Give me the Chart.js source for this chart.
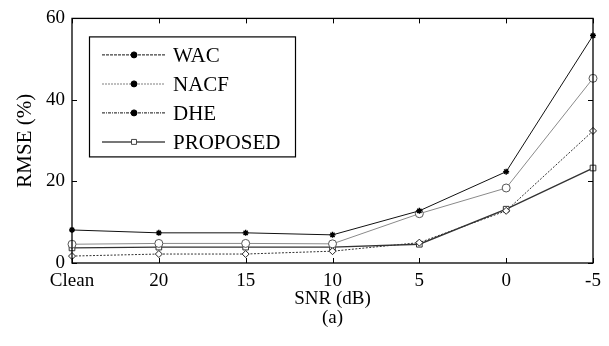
<!DOCTYPE html>
<html>
<head>
<meta charset="utf-8">
<script src="https://cdn.jsdelivr.net/npm/chart.js@4.4.0/dist/chart.umd.min.js"></script>
<style>
  html,body{margin:0;padding:0;background:#fff;}
  #wrap{width:609px;height:346px;position:relative;}
</style>
</head>
<body>
<div id="wrap"><canvas id="c" width="609" height="346"></canvas></div>
<script>
const categories = ["Clean", "20", "15", "10", "5", "0", "-5"];
const wacValues = [8.1, 7.4, 7.4, 6.9, 12.8, 22.4, 55.8];
const nacfValues = [4.6, 4.8, 4.8, 4.7, 12.1, 18.4, 45.3];
const dheValues = [1.7, 2.2, 2.2, 2.9, 5.0, 12.8, 32.4];
const proposedValues = [3.7, 3.9, 3.9, 3.9, 4.6, 13.2, 23.3];
const seriesNames = ["WAC", "NACF", "DHE", "PROPOSED"];
const yTicks = [0, 20, 40, 60];
const xTitle = ["SNR (dB)", "(a)"];
const yTitle = "RMSE (%)";

const FONT = "'Liberation Serif', 'Times New Roman', serif";

const datasets = [
  {label: seriesNames[0], data: wacValues, borderColor: '#111', borderWidth: 1, pointStyle: 'star',
   pointRadius: 3, pointBorderWidth: 1.4, pointBorderColor: '#000', pointBackgroundColor: '#000', borderDash: []},
  {label: seriesNames[1], data: nacfValues, borderColor: '#8a8a8a', borderWidth: 1, pointStyle: 'circle',
   pointRadius: 4, pointBorderWidth: 1, pointBorderColor: '#555', pointBackgroundColor: '#fff', borderDash: []},
  {label: seriesNames[2], data: dheValues, borderColor: '#333', borderWidth: 1, pointStyle: 'rectRot',
   pointRadius: 3.5, pointBorderWidth: 1, pointBorderColor: '#222', pointBackgroundColor: '#fff', borderDash: [2, 1.5]},
  {label: seriesNames[3], data: proposedValues, borderColor: '#333', borderWidth: 1.4, pointStyle: 'rect',
   pointRadius: 4, pointBorderWidth: 1, pointBorderColor: '#333', pointBackgroundColor: '#fff', borderDash: []}
];
datasets.forEach(d => { d.tension = 0; d.fill = false; d.pointHoverRadius = d.pointRadius; });

const framePlugin = {
  id: 'frame',
  afterDatasetsDraw(chart) {
    const ctx = chart.ctx, a = chart.chartArea;
    const xs = chart.scales.x, ys = chart.scales.y;
    ctx.save();
    ctx.strokeStyle = '#000';
    ctx.lineWidth = 1.3;
    ctx.setLineDash([]);
    ctx.strokeRect(a.left, a.top, a.right - a.left, a.bottom - a.top);
    ctx.lineWidth = 1;
    const tl = 5;
    ys.ticks.forEach((t, i) => {
      const y = Math.round(ys.getPixelForTick(i)) + 0.5;
      ctx.beginPath();
      ctx.moveTo(a.left, y); ctx.lineTo(a.left + tl, y);
      ctx.moveTo(a.right, y); ctx.lineTo(a.right - tl, y);
      ctx.stroke();
    });
    xs.ticks.forEach((t, i) => {
      const x = Math.round(xs.getPixelForTick(i)) + 0.5;
      ctx.beginPath();
      ctx.moveTo(x, a.bottom); ctx.lineTo(x, a.bottom - tl);
      ctx.moveTo(x, a.top); ctx.lineTo(x, a.top + tl);
      ctx.stroke();
    });
    ctx.restore();
  },
  afterDraw(chart) {
    const ctx = chart.ctx, a = chart.chartArea;
    const bx = a.left + 17, by = a.top + 18, bw = 206, bh = 120;
    ctx.save();
    ctx.fillStyle = '#fff';
    ctx.fillRect(bx, by, bw, bh);
    ctx.strokeStyle = '#000';
    ctx.lineWidth = 1.2;
    ctx.strokeRect(bx + 0.5, by + 0.5, bw, bh);
    const legendLineStyles = [
      {color: '#111', width: 1, dash: [3, 1]},
      {color: '#aaa', width: 1.5, dash: [2, 1]},
      {color: '#111', width: 1, dash: [3, 1, 1, 1]},
      {color: '#777', width: 2, dash: []}
    ];
    chart.data.datasets.forEach((d, i) => {
      const y = by + 18 + i * 29 + 0.5;
      const s = legendLineStyles[i];
      ctx.beginPath();
      ctx.strokeStyle = s.color;
      ctx.lineWidth = s.width;
      ctx.setLineDash(s.dash);
      ctx.moveTo(bx + 13, y); ctx.lineTo(bx + 76, y);
      ctx.stroke();
      ctx.setLineDash([]);
      ctx.fillStyle = i === 3 ? '#fff' : '#000';
      ctx.strokeStyle = i === 3 ? '#444' : '#000';
      ctx.lineWidth = 1;
      const style = i === 3 ? 'rect' : 'circle';
      Chart.helpers.drawPoint(ctx, {pointStyle: style, radius: i === 3 ? 3.5 : 3, borderWidth: 1, rotation: 0}, bx + 45, y);
      ctx.fillStyle = '#000';
      ctx.font = '21px ' + FONT;
      ctx.textBaseline = 'middle';
      ctx.textAlign = 'left';
      ctx.fillText(d.label, bx + 84, y + 2);
    });
    ctx.restore();
  }
};

new Chart(document.getElementById('c'), {
  type: 'line',
  data: {labels: categories, datasets: datasets},
  options: {
    responsive: false,
    animation: false,
    devicePixelRatio: 1,
    layout: {padding: {top: 16, right: 16, left: 0, bottom: 0}},
    plugins: {legend: {display: false}, tooltip: {enabled: false}},
    scales: {
      x: {
        type: 'category',
        offset: false,
        grid: {display: false, drawTicks: false},
        border: {display: false},
        ticks: {color: '#000', font: {family: FONT, size: 19}, padding: 7, maxRotation: 0, autoSkip: false},
        title: {display: true, text: xTitle, color: '#000', font: {family: FONT, size: 19, lineHeight: 1.0}, padding: {top: 0, bottom: 18}},
        afterFit(s) { s.height = 83; }
      },
      y: {
        min: 0, max: 60,
        afterBuildTicks(s) { s.ticks = yTicks.map(v => ({value: v})); },
        grid: {display: false, drawTicks: false},
        border: {display: false},
        ticks: {color: '#000', font: {family: FONT, size: 19}, padding: 7},
        title: {display: true, text: yTitle, color: '#000', font: {family: FONT, size: 21, lineHeight: 1.0}, padding: {top: 15, bottom: 0}},
        afterFit(s) { s.width = 72; }
      }
    }
  },
  plugins: [framePlugin]
});
</script>
</body>
</html>
